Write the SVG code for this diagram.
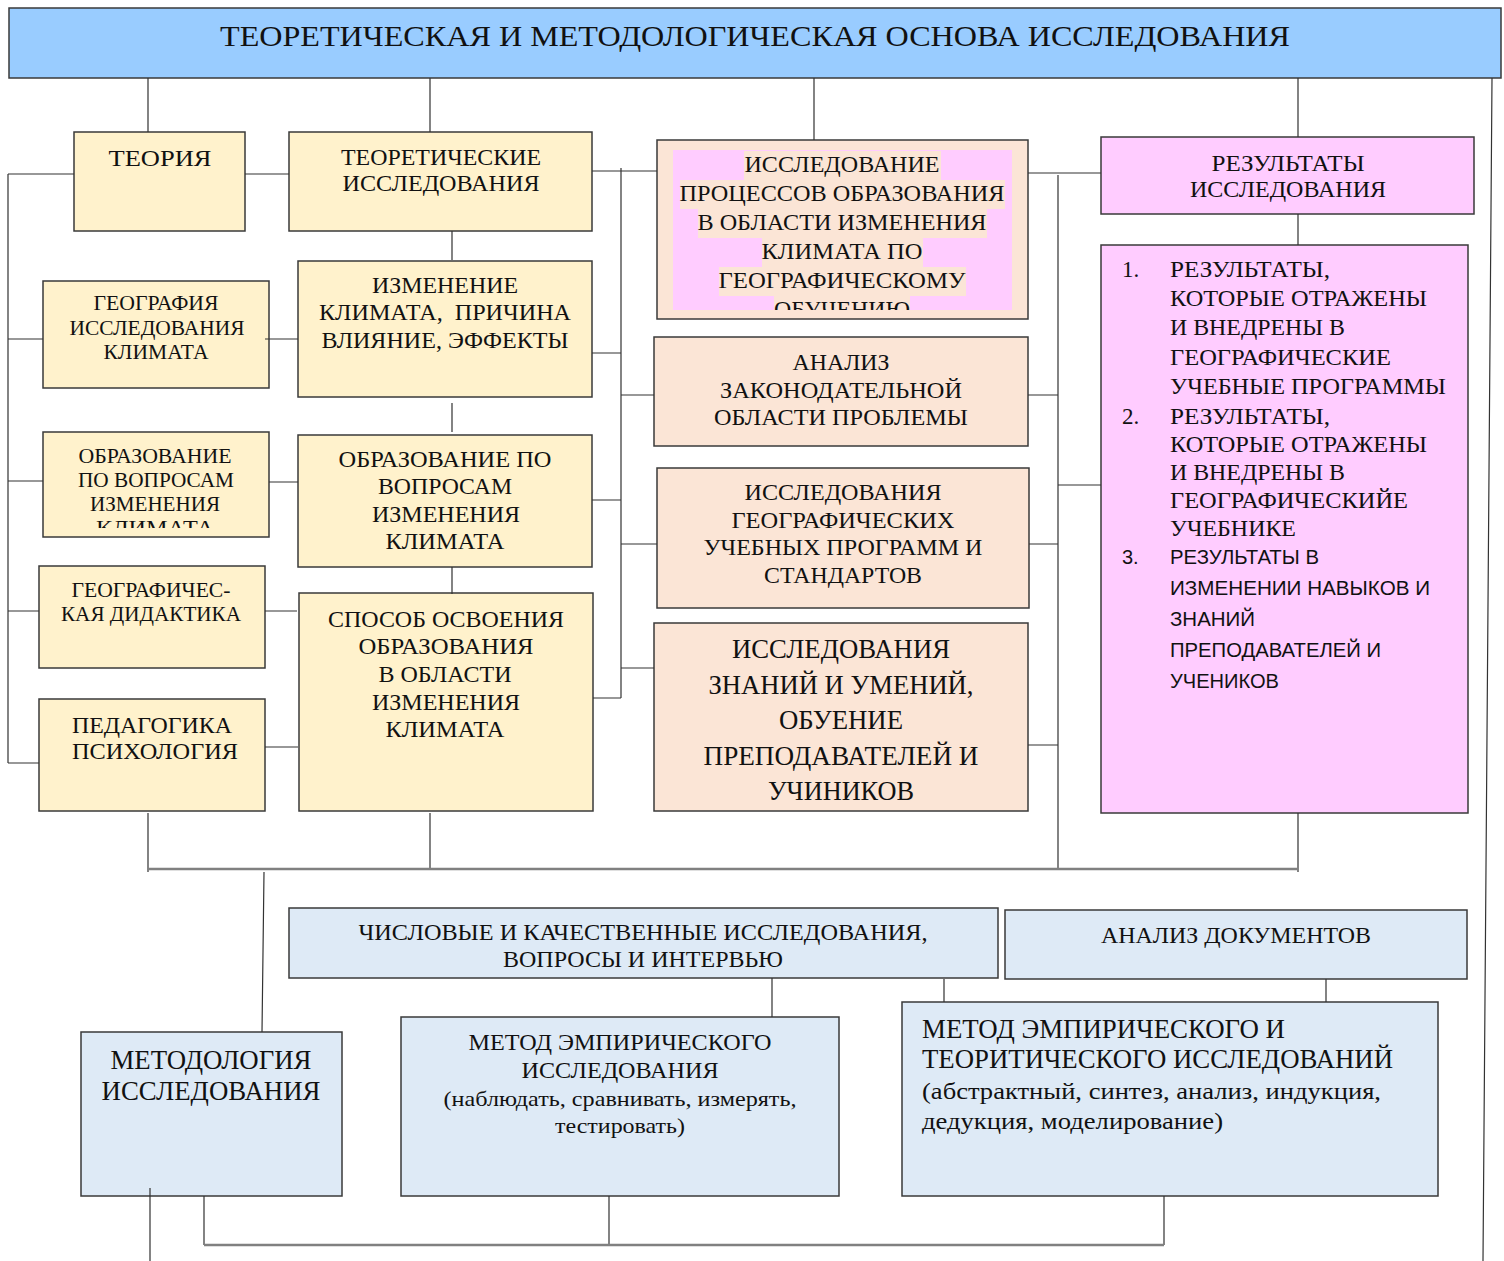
<svg xmlns="http://www.w3.org/2000/svg" width="1504" height="1261" viewBox="0 0 1504 1261">
<defs>
<style>
.bx{stroke:#3a3a3a;stroke-width:1.5}
.y{fill:#FFF2CC}.p{fill:#FBE5D6}.k{fill:#FFCCFF}.b{fill:#DEEAF6}.t{fill:#99CCFF}
text{font-family:"Liberation Serif","Times New Roman",serif;fill:#111;}
.c{text-anchor:middle}
.s{font-family:"Liberation Sans",Arial,sans-serif}
.ln{stroke:#333;stroke-width:1.2;fill:none}
.bus{stroke:#808080;stroke-width:2.5;fill:none}
</style>
<clipPath id="clipA"><rect x="673" y="150" width="339" height="160"/></clipPath>
<clipPath id="clipB"><rect x="44" y="433" width="224" height="95"/></clipPath>
</defs>
<rect width="1504" height="1261" fill="#ffffff"/>

<g id="title">
<rect class="bx t" x="9" y="8" width="1492" height="70"/>
<text class="c" x="755" y="46" font-size="30" textLength="1070" lengthAdjust="spacingAndGlyphs">ТЕОРЕТИЧЕСКАЯ И МЕТОДОЛОГИЧЕСКАЯ ОСНОВА ИССЛЕДОВАНИЯ</text>
</g>

<g id="teoria">
<rect class="bx y" x="74" y="132" width="171" height="99"/>
<text class="c" x="160" y="166" font-size="24" textLength="103" lengthAdjust="spacingAndGlyphs">ТЕОРИЯ</text>
</g>

<g id="teor-issl">
<rect class="bx y" x="289" y="132" width="303" height="99"/>
<text class="c" x="441" y="165" font-size="24" textLength="200" lengthAdjust="spacingAndGlyphs">ТЕОРЕТИЧЕСКИЕ</text>
<text class="c" x="441" y="191" font-size="24" textLength="197" lengthAdjust="spacingAndGlyphs">ИССЛЕДОВАНИЯ</text>
</g>

<g id="geo-issl">
<rect class="bx y" x="43" y="281" width="226" height="107"/>
<text class="c" x="156" y="310" font-size="20" textLength="125" lengthAdjust="spacingAndGlyphs">ГЕОГРАФИЯ</text>
<text class="c" x="157" y="335" font-size="20" textLength="175" lengthAdjust="spacingAndGlyphs">ИССЛЕДОВАНИЯ</text>
<text class="c" x="156" y="359" font-size="20" textLength="105" lengthAdjust="spacingAndGlyphs">КЛИМАТА</text>
</g>

<g id="izmenenie">
<rect class="bx y" x="298" y="261" width="294" height="136"/>
<text class="c" x="445" y="293" font-size="24" textLength="146" lengthAdjust="spacingAndGlyphs">ИЗМЕНЕНИЕ</text>
<text class="c" x="445" y="320" font-size="24" textLength="252" lengthAdjust="spacingAndGlyphs" xml:space="preserve">КЛИМАТА,  ПРИЧИНА</text>
<text class="c" x="445" y="348" font-size="24" textLength="247" lengthAdjust="spacingAndGlyphs">ВЛИЯНИЕ, ЭФФЕКТЫ</text>
</g>

<g id="obraz-small">
<rect class="bx y" x="43" y="432" width="226" height="105"/>
<g clip-path="url(#clipB)">
<text class="c" x="155" y="463" font-size="20" textLength="153" lengthAdjust="spacingAndGlyphs">ОБРАЗОВАНИЕ</text>
<text class="c" x="156" y="487" font-size="20" textLength="156" lengthAdjust="spacingAndGlyphs">ПО ВОПРОСАМ</text>
<text class="c" x="155" y="511" font-size="20" textLength="130" lengthAdjust="spacingAndGlyphs">ИЗМЕНЕНИЯ</text>
<text class="c" x="155" y="535" font-size="20" textLength="118" lengthAdjust="spacingAndGlyphs">КЛИМАТА</text>
</g>
</g>

<g id="obraz-big">
<rect class="bx y" x="298" y="435" width="294" height="132"/>
<text class="c" x="445" y="467" font-size="24" textLength="213" lengthAdjust="spacingAndGlyphs">ОБРАЗОВАНИЕ ПО</text>
<text class="c" x="445" y="494" font-size="24" textLength="134" lengthAdjust="spacingAndGlyphs">ВОПРОСАМ</text>
<text class="c" x="446" y="522" font-size="24" textLength="148" lengthAdjust="spacingAndGlyphs">ИЗМЕНЕНИЯ</text>
<text class="c" x="445" y="549" font-size="24" textLength="119" lengthAdjust="spacingAndGlyphs">КЛИМАТА</text>
</g>

<g id="didaktika">
<rect class="bx y" x="39" y="566" width="226" height="102"/>
<text class="c" x="151" y="597" font-size="20" textLength="159" lengthAdjust="spacingAndGlyphs">ГЕОГРАФИЧЕС-</text>
<text class="c" x="151" y="621" font-size="20" textLength="180" lengthAdjust="spacingAndGlyphs">КАЯ ДИДАКТИКА</text>
</g>

<g id="sposob">
<rect class="bx y" x="299" y="593" width="294" height="218"/>
<text class="c" x="446" y="627" font-size="24" textLength="236" lengthAdjust="spacingAndGlyphs">СПОСОБ ОСВОЕНИЯ</text>
<text class="c" x="446" y="654" font-size="24" textLength="175" lengthAdjust="spacingAndGlyphs">ОБРАЗОВАНИЯ</text>
<text class="c" x="445" y="682" font-size="24" textLength="133" lengthAdjust="spacingAndGlyphs">В ОБЛАСТИ</text>
<text class="c" x="446" y="710" font-size="24" textLength="148" lengthAdjust="spacingAndGlyphs">ИЗМЕНЕНИЯ</text>
<text class="c" x="445" y="737" font-size="24" textLength="119" lengthAdjust="spacingAndGlyphs">КЛИМАТА</text>
</g>

<g id="pedagogika">
<rect class="bx y" x="39" y="699" width="226" height="112"/>
<text class="c" x="152" y="733" font-size="24" textLength="160" lengthAdjust="spacingAndGlyphs">ПЕДАГОГИКА</text>
<text class="c" x="155" y="759" font-size="24" textLength="166" lengthAdjust="spacingAndGlyphs">ПСИХОЛОГИЯ</text>
</g>

<g id="issl-processov">
<rect class="bx p" x="657" y="140" width="371" height="179"/>
<rect class="k" x="673" y="150" width="339" height="160"/>
<g clip-path="url(#clipA)">
<rect class="p" x="744" y="151" width="197" height="29"/>
<rect class="p" x="680" y="180" width="325" height="29"/>
<rect class="p" x="698" y="209" width="289" height="29"/>
<rect class="p" x="762" y="238" width="161" height="29"/>
<rect class="p" x="719" y="267" width="247" height="29"/>
<rect class="p" x="774" y="296" width="136" height="29"/>
<text class="c" x="842" y="172" font-size="24" textLength="195" lengthAdjust="spacingAndGlyphs">ИССЛЕДОВАНИЕ</text>
<text class="c" x="842" y="201" font-size="24" textLength="325" lengthAdjust="spacingAndGlyphs">ПРОЦЕССОВ ОБРАЗОВАНИЯ</text>
<text class="c" x="842" y="230" font-size="24" textLength="289" lengthAdjust="spacingAndGlyphs">В ОБЛАСТИ ИЗМЕНЕНИЯ</text>
<text class="c" x="842" y="259" font-size="24" textLength="161" lengthAdjust="spacingAndGlyphs">КЛИМАТА ПО</text>
<text class="c" x="842" y="288" font-size="24" textLength="247" lengthAdjust="spacingAndGlyphs">ГЕОГРАФИЧЕСКОМУ</text>
<text class="c" x="842" y="317" font-size="24" textLength="136" lengthAdjust="spacingAndGlyphs">ОБУЧЕНИЮ</text>
</g>
</g>

<g id="analiz-zakon">
<rect class="bx p" x="654" y="337" width="374" height="109"/>
<text class="c" x="841" y="370" font-size="24" textLength="97" lengthAdjust="spacingAndGlyphs">АНАЛИЗ</text>
<text class="c" x="841" y="398" font-size="24" textLength="242" lengthAdjust="spacingAndGlyphs">ЗАКОНОДАТЕЛЬНОЙ</text>
<text class="c" x="841" y="425" font-size="24" textLength="254" lengthAdjust="spacingAndGlyphs">ОБЛАСТИ ПРОБЛЕМЫ</text>
</g>

<g id="issl-programm">
<rect class="bx p" x="657" y="468" width="372" height="140"/>
<text class="c" x="843" y="500" font-size="24" textLength="197" lengthAdjust="spacingAndGlyphs">ИССЛЕДОВАНИЯ</text>
<text class="c" x="843" y="528" font-size="24" textLength="223" lengthAdjust="spacingAndGlyphs">ГЕОГРАФИЧЕСКИХ</text>
<text class="c" x="843" y="555" font-size="24" textLength="279" lengthAdjust="spacingAndGlyphs">УЧЕБНЫХ ПРОГРАММ И</text>
<text class="c" x="843" y="583" font-size="24" textLength="158" lengthAdjust="spacingAndGlyphs">СТАНДАРТОВ</text>
</g>

<g id="issl-znaniy">
<rect class="bx p" x="654" y="623" width="374" height="188"/>
<text class="c" x="841" y="658" font-size="27" textLength="218" lengthAdjust="spacingAndGlyphs">ИССЛЕДОВАНИЯ</text>
<text class="c" x="841" y="694" font-size="27" textLength="265" lengthAdjust="spacingAndGlyphs">ЗНАНИЙ И УМЕНИЙ,</text>
<text class="c" x="841" y="729" font-size="27" textLength="124" lengthAdjust="spacingAndGlyphs">ОБУЕНИЕ</text>
<text class="c" x="841" y="765" font-size="27" textLength="275" lengthAdjust="spacingAndGlyphs">ПРЕПОДАВАТЕЛЕЙ И</text>
<text class="c" x="841" y="800" font-size="27" textLength="146" lengthAdjust="spacingAndGlyphs">УЧИНИКОВ</text>
</g>

<g id="rezultaty">
<rect class="bx k" x="1101" y="137" width="373" height="77"/>
<text class="c" x="1288" y="171" font-size="23" textLength="153" lengthAdjust="spacingAndGlyphs">РЕЗУЛЬТАТЫ</text>
<text class="c" x="1288" y="197" font-size="23" textLength="196" lengthAdjust="spacingAndGlyphs">ИССЛЕДОВАНИЯ</text>
</g>

<g id="rezultaty-list">
<rect class="bx k" x="1101" y="245" width="367" height="568"/>
<text x="1122" y="277" font-size="23">1.</text>
<text x="1170" y="277" font-size="23" textLength="160" lengthAdjust="spacingAndGlyphs">РЕЗУЛЬТАТЫ,</text>
<text x="1170" y="306" font-size="23" textLength="257" lengthAdjust="spacingAndGlyphs">КОТОРЫЕ ОТРАЖЕНЫ</text>
<text x="1170" y="335" font-size="23" textLength="175" lengthAdjust="spacingAndGlyphs">И ВНЕДРЕНЫ В</text>
<text x="1170" y="365" font-size="23" textLength="221" lengthAdjust="spacingAndGlyphs">ГЕОГРАФИЧЕСКИЕ</text>
<text x="1170" y="394" font-size="23" textLength="276" lengthAdjust="spacingAndGlyphs">УЧЕБНЫЕ ПРОГРАММЫ</text>
<text x="1122" y="424" font-size="23">2.</text>
<text x="1170" y="424" font-size="23" textLength="160" lengthAdjust="spacingAndGlyphs">РЕЗУЛЬТАТЫ,</text>
<text x="1170" y="452" font-size="23" textLength="257" lengthAdjust="spacingAndGlyphs">КОТОРЫЕ ОТРАЖЕНЫ</text>
<text x="1170" y="480" font-size="23" textLength="175" lengthAdjust="spacingAndGlyphs">И ВНЕДРЕНЫ В</text>
<text x="1170" y="508" font-size="23" textLength="238" lengthAdjust="spacingAndGlyphs">ГЕОГРАФИЧЕСКИЙЕ</text>
<text x="1170" y="536" font-size="23" textLength="126" lengthAdjust="spacingAndGlyphs">УЧЕБНИКЕ</text>
<text class="s" x="1122" y="564" font-size="20">3.</text>
<text class="s" x="1170" y="564" font-size="20" textLength="149" lengthAdjust="spacingAndGlyphs">РЕЗУЛЬТАТЫ В</text>
<text class="s" x="1170" y="595" font-size="20" textLength="260" lengthAdjust="spacingAndGlyphs">ИЗМЕНЕНИИ НАВЫКОВ И</text>
<text class="s" x="1170" y="626" font-size="20" textLength="85" lengthAdjust="spacingAndGlyphs">ЗНАНИЙ</text>
<text class="s" x="1170" y="657" font-size="20" textLength="211" lengthAdjust="spacingAndGlyphs">ПРЕПОДАВАТЕЛЕЙ И</text>
<text class="s" x="1170" y="688" font-size="20" textLength="109" lengthAdjust="spacingAndGlyphs">УЧЕНИКОВ</text>
</g>

<g id="chislovye">
<rect class="bx b" x="289" y="908" width="709" height="70"/>
<text class="c" x="643" y="940" font-size="23" textLength="569" lengthAdjust="spacingAndGlyphs">ЧИСЛОВЫЕ И КАЧЕСТВЕННЫЕ ИССЛЕДОВАНИЯ,</text>
<text class="c" x="643" y="967" font-size="23" textLength="280" lengthAdjust="spacingAndGlyphs">ВОПРОСЫ И ИНТЕРВЬЮ</text>
</g>

<g id="analiz-dok">
<rect class="bx b" x="1005" y="910" width="462" height="69"/>
<text class="c" x="1236" y="943" font-size="23" textLength="270" lengthAdjust="spacingAndGlyphs">АНАЛИЗ ДОКУМЕНТОВ</text>
</g>

<g id="metodologiya">
<rect class="bx b" x="81" y="1032" width="261" height="164"/>
<text class="c" x="211" y="1069" font-size="28" textLength="201" lengthAdjust="spacingAndGlyphs">МЕТОДОЛОГИЯ</text>
<text class="c" x="211" y="1100" font-size="28" textLength="219" lengthAdjust="spacingAndGlyphs">ИССЛЕДОВАНИЯ</text>
</g>

<g id="metod-emp">
<rect class="bx b" x="401" y="1017" width="438" height="179"/>
<text class="c" x="620" y="1050" font-size="24" textLength="303" lengthAdjust="spacingAndGlyphs">МЕТОД ЭМПИРИЧЕСКОГО</text>
<text class="c" x="620" y="1078" font-size="24" textLength="197" lengthAdjust="spacingAndGlyphs">ИССЛЕДОВАНИЯ</text>
<text class="c" x="620" y="1106" font-size="21" textLength="353" lengthAdjust="spacingAndGlyphs">(наблюдать, сравнивать, измерять,</text>
<text class="c" x="620" y="1133" font-size="21" textLength="130" lengthAdjust="spacingAndGlyphs">тестировать)</text>
</g>

<g id="metod-emp-teor">
<rect class="bx b" x="902" y="1002" width="536" height="194"/>
<text x="922" y="1038" font-size="27" textLength="363" lengthAdjust="spacingAndGlyphs">МЕТОД ЭМПИРИЧЕСКОГО И</text>
<text x="922" y="1068" font-size="27" textLength="471" lengthAdjust="spacingAndGlyphs">ТЕОРИТИЧЕСКОГО ИССЛЕДОВАНИЙ</text>
<text x="922" y="1099" font-size="24" textLength="459" lengthAdjust="spacingAndGlyphs">(абстрактный, синтез, анализ, индукция,</text>
<text x="922" y="1129" font-size="24" textLength="301" lengthAdjust="spacingAndGlyphs">дедукция, моделирование)</text>
</g>

<g id="connectors">
<path class="ln" d="M148 78V132M430 78V132M814 78V140M1298 78V137M1492 78L1483 1261"/>
<path class="ln" d="M8 174V763M8 174H74M8 339H43M8 481H43M8 611H39M8 763H39"/>
<path class="ln" d="M245 174H289M265 339H298M269 482H298M265 611H297M265 747H298"/>
<path class="ln" d="M452 231V260M452 403V432M452 567V594"/>
<path class="ln" d="M592 171H657M592 353H621M592 500H621M593 698H621M621 168V698M621 395H654M621 544H657M621 668H654"/>
<path class="ln" d="M1058 175V869M1028 173H1101M1028 395H1058M1029 544H1058M1028 745H1058M1058 485H1101"/>
<path class="ln" d="M1298 214V245M1298 813V872M148 813V872M430 813V869"/>
<path class="bus" d="M148 869H1298"/>
<path class="ln" d="M264 872L262 1032M772 978V1017M944 979V1002M1326 979V1002M150 1188V1261"/>
<path class="ln" d="M204 1196V1245M609 1196V1245M1164 1196V1245"/>
<path class="bus" d="M204 1245H1164"/>
</g>
</svg>
